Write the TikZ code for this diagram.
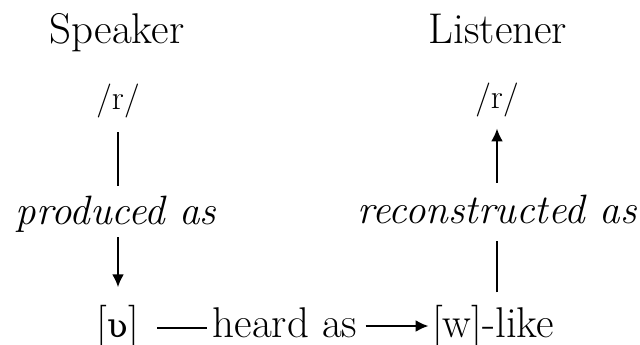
\documentclass[tikz,border=0pt]{standalone}
\usepackage{fontspec}
\newfontfamily\ipafont{DejaVu Serif}
\usetikzlibrary{arrows.meta}
\tikzset{
  lbl/.style={anchor=base,inner sep=0pt,font=\fontsize{21.5}{25}\selectfont},
  itl/.style={anchor=base,inner sep=0pt,font=\fontsize{20.5}{24}\selectfont\itshape},
  phon/.style={anchor=base,inner sep=0pt,font=\fontsize{17}{20}\selectfont},
  conn/.style={line width=1.3pt},
  arr/.style={line width=1.3pt,-{Latex[length=6.5pt,width=6pt]}}
}
\begin{document}
\begin{tikzpicture}[x=0.5pt,y=-0.5pt]
\useasboundingbox (0,0) rectangle (640,344);
\node[lbl] (spk) at (117,43) {Speaker};
\node[lbl] (lis) at (498,43) {Listener};
\node[phon] (r1) at (118,109) {/r/};
\node[phon] (r2) at (497,108) {/r/};
\node[itl] (prod) at (116,224) {produced as};
\node[itl] (rec) at (497,223) {reconstructed as};
\node[lbl] (v) at (118,337) {[{\ipafont\fontsize{17}{20}\selectfont ʋ}]};
\node[lbl] (heard) at (285,337) {heard as};
\node[lbl] (wl) at (493,337) {[w]-like};
% left column
\draw[conn,shorten <=7.25pt,shorten >=4.75pt] (r1.south) -- (r1.south |- prod.north);
\draw[arr,shorten <=2.5pt,shorten >=8.5pt] (v.north |- prod.south) -- (v.north);
% right column
\draw[conn,shorten <=6pt,shorten >=8.5pt] (wl.north -| rec.south) -- (rec.south);
\draw[arr,shorten <=5.75pt,shorten >=5.75pt] (rec.north) -- (r2.south);
% bottom row
\draw[conn,shorten <=9pt,shorten >=2.5pt] ([yshift=4.5pt]v.base east) -- ([yshift=4.5pt]heard.base west);
\draw[arr,shorten <=4pt,shorten >=1.5pt] ([yshift=5.5pt]heard.base east) -- ([yshift=5.5pt]wl.base west);
\end{tikzpicture}
\end{document}
